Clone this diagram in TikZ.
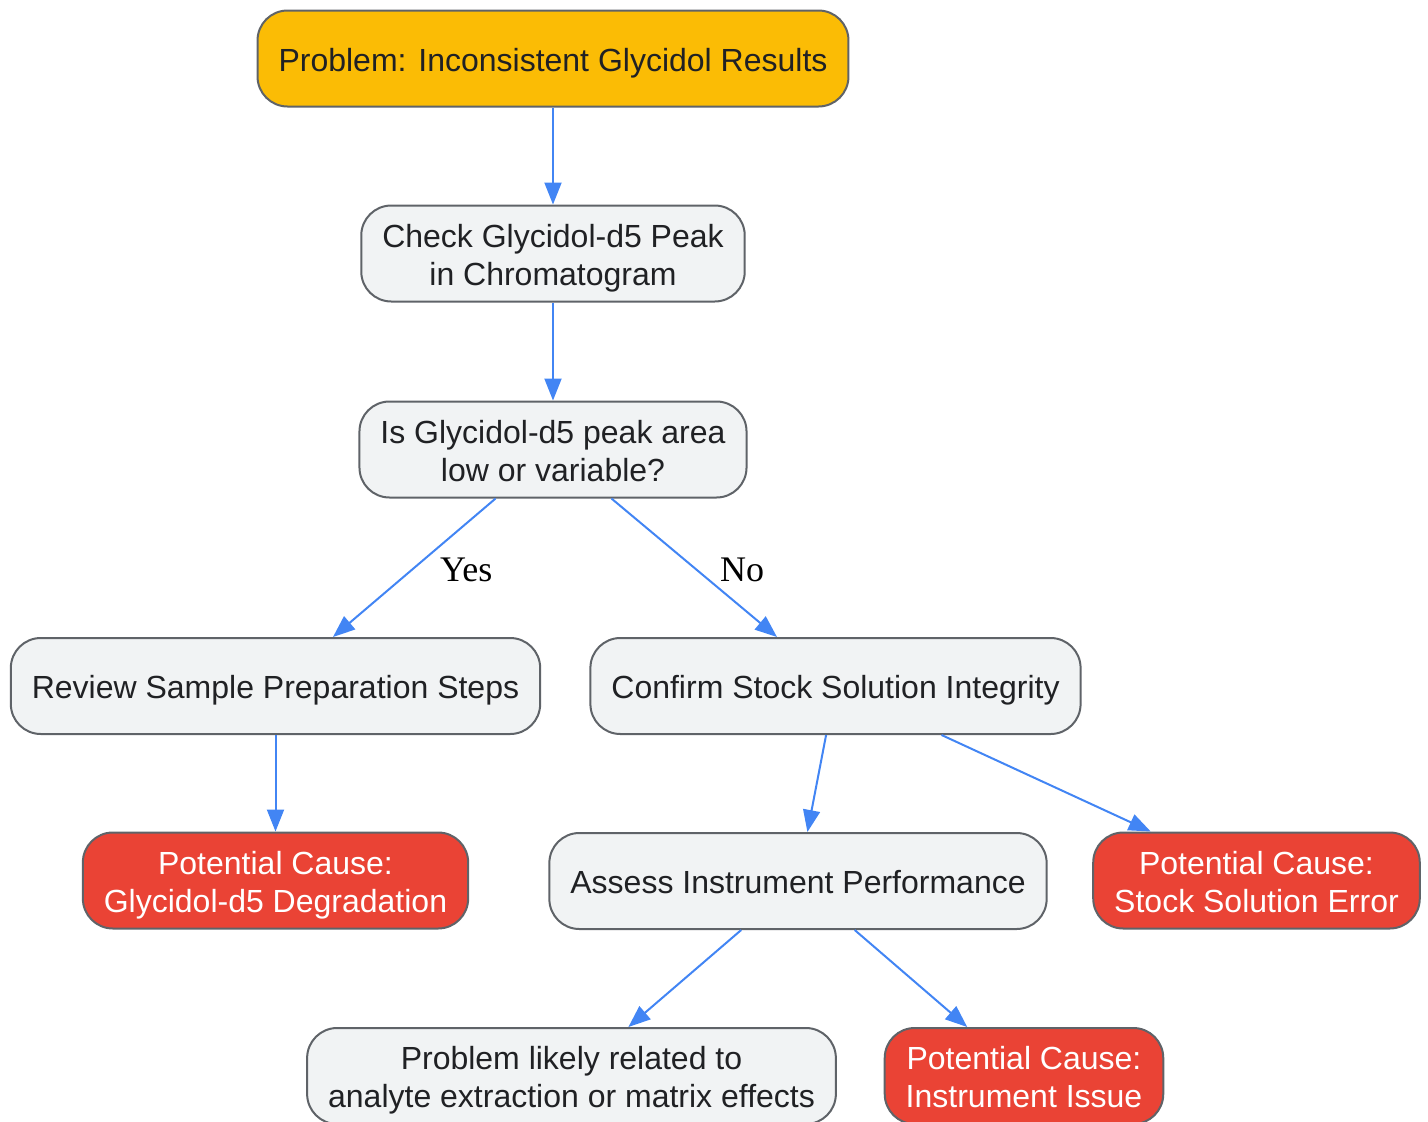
\documentclass[tikz,border=0pt]{standalone}
\usepackage{fontspec}
\setmainfont{Liberation Sans}
\newfontfamily\lblfont{Liberation Serif}
\usetikzlibrary{arrows.meta}

\definecolor{boxgray}{HTML}{F1F3F4}
\definecolor{edgegray}{HTML}{5F6368}
\definecolor{txtgray}{HTML}{202124}
\definecolor{gyellow}{HTML}{FBBC05}
\definecolor{gred}{HTML}{EA4335}
\definecolor{gblue}{HTML}{4285F4}

\begin{document}
\begin{tikzpicture}[x=1pt,y=-1pt,
    box/.style={draw=edgegray,line width=2pt,rounded corners=30pt,fill=boxgray,text=txtgray,
        align=center,inner xsep=21pt,inner ysep=0pt,minimum height=96pt,
        font=\fontsize{32}{38}\selectfont,text height=31pt,text depth=6pt},
    twoline/.style={text height=69pt},
    startbox/.style={box,fill=gyellow},
    causebox/.style={box,twoline,fill=gred,text=white},
    arr/.style={draw=gblue,line width=2pt,-{Triangle[length=22pt,width=17pt]}},
    lbl/.style={font=\lblfont\fontsize{36}{40}\selectfont,text=black}]
    \useasboundingbox (0,0) rectangle (1428,1122);

    \node (p)  at (553,58.5)   [startbox] {Problem: Inconsistent Glycidol Results};
    \node (c)  at (553,253.5)  [box,twoline] {Check Glycidol-d5 Peak\\in Chromatogram};
    \node (q)  at (553,449.5)  [box,twoline] {Is Glycidol-d5 peak area\\low or variable?};
    \node (r)  at (275.5,686)  [box] {Review Sample Preparation Steps};
    \node (s)  at (835.5,686)  [box] {Confirm Stock Solution Integrity};
    \node (c1) at (275.5,880.5) [causebox] {Potential Cause:\\Glycidol-d5 Degradation};
    \node (a)  at (798,881)    [box] {Assess Instrument Performance};
    \node (c2) at (1256.5,880.5) [causebox] {Potential Cause:\\Stock Solution Error};
    \node (m)  at (571.5,1076) [box,twoline] {Problem likely related to\\analyte extraction or matrix effects};
    \node (c3) at (1024,1076)  [causebox] {Potential Cause:\\Instrument Issue};

    \draw[arr] (p) -- (c);
    \draw[arr] (c) -- (q);
    \draw[arr] (q) -- node[lbl,xshift=52pt,yshift=-2pt] {Yes} (r);
    \draw[arr] (q) -- node[lbl,xshift=48pt,yshift=-2pt] {No} (s);
    \draw[arr] (r) -- (c1);
    \draw[arr] (s) -- (a);
    \draw[arr] (s) -- (c2);
    \draw[arr] (a) -- (m);
    \draw[arr] (a) -- (c3);
\end{tikzpicture}
\end{document}
